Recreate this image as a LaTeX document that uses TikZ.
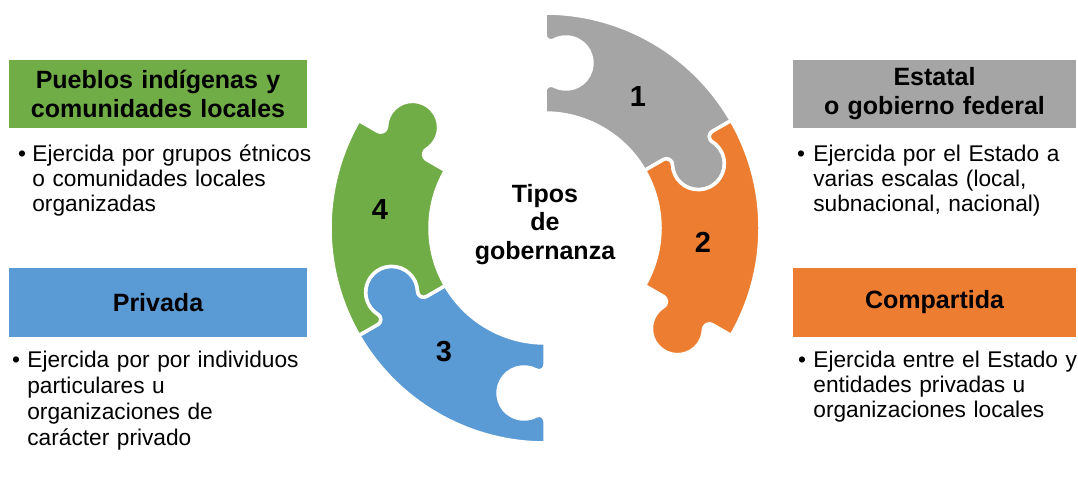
\documentclass[tikz,border=0pt]{standalone}
\usepackage{fontspec}
\setmainfont{Liberation Sans}
\usetikzlibrary{positioning}
\definecolor{pgray}{HTML}{A5A5A5}
\definecolor{porange}{HTML}{ED7D31}
\definecolor{pblue}{HTML}{5B9BD5}
\definecolor{pgreen}{HTML}{70AD47}
% piece from angle #2 (hole) clockwise to angle #3 (knob)
% ring 115..215, knob r=26 at 21 off the edge, shoulders r=6
\def\puzzlepiece[#1](#2:#3){\filldraw[fill=#1, draw=white, line width=3.5pt] (#2:215) arc[start angle=#2, end angle=#3, radius=215] -- (#3:193.3) arc[start angle=#3+90, end angle=#3+207.9, radius=6] arc[start angle=#3+27.9, end angle=#3-207.9, radius=26] arc[start angle=#3-27.9, end angle=#3+90, radius=6] -- (#3:115) arc[start angle=#3, end angle=#2, radius=115] -- (#2:136.7) arc[start angle=#2+90, end angle=#2-27.9, radius=6] arc[start angle=#2-207.9, end angle=#2+27.9, radius=26] arc[start angle=#2+207.9, end angle=#2+90, radius=6] -- cycle;}
\tikzset{
  headbox/.style={inner sep=0, minimum height=68pt, align=center, font=\bfseries\fontsize{25}{29}\selectfont},
  bodytext/.style={inner sep=0, text width=300pt, align=left, font=\fontsize{22.7}{25}\selectfont},
  dot/.style={inner sep=0, font=\fontsize{22.7}{25}\selectfont},
  num/.style={inner sep=0, font=\bfseries\fontsize{29}{30}\selectfont}
}

\begin{document}
\begin{tikzpicture}[x=1pt, y=1pt]
			%%%%% START %%%%%
			\useasboundingbox (0, 0) rectangle (1078, 488);
			
			\begin{scope}[shift={(545, 260)}]
				\puzzlepiece[pgray](90:30)
				\puzzlepiece[porange](30:-30)
				\puzzlepiece[pblue](270:210)
				\puzzlepiece[pgreen](210:150)
			\end{scope}
			
			\node[num] (n1) at (638, 391) {1};
			\node[num] (n2) at (703, 246) {2};
			\node[num] (n3) at (444, 136) {3};
			\node[num] (n4) at (380, 278) {4};
			
			\node[headbox, text width=200pt, anchor=base] (tipos) at (545, 286) {Tipos\\de\\gobernanza};
			
			\node[headbox, fill=pgreen, text width=298pt] (h4) at (158, 394) {Pueblos indígenas y\\comunidades locales};
			\node[headbox, fill=pgray, text width=283pt] (h1) at (934.5, 394) {Estatal\\o gobierno federal};
			\node[headbox, fill=pblue, text width=298pt, minimum height=69pt] (h3) at (158, 185.5) {Privada};
			\node[headbox, fill=porange, text width=283pt, minimum height=69pt] (h2) at (934.5, 185.5) {Compartida};
			
			\node[dot, anchor=base] (b4) at (22, 326) {\textbullet};
			\node[bodytext, base right=6pt of b4] (t4) {Ejercida por grupos étnicos\\o comunidades locales\\organizadas};
			\node[dot, anchor=base] (b1) at (801, 326) {\textbullet};
			\node[bodytext, base right=8pt of b1] (t1) {Ejercida por el Estado a\\varias escalas (local,\\subnacional, nacional)};
			\node[dot, anchor=base] (b3) at (16, 121) {\textbullet};
			\node[bodytext, base right=7pt of b3, font=\fontsize{22.7}{26.3}\selectfont] (t3) {Ejercida por por individuos\\particulares u\\organizaciones de\\carácter privado};
			\node[dot, anchor=base] (b2) at (802, 121) {\textbullet};
			\node[bodytext, base right=7pt of b2] (t2) {Ejercida entre el Estado y\\entidades privadas u\\organizaciones locales};
			
			%%%%% END %%%%%
\end{tikzpicture}
\end{document}
